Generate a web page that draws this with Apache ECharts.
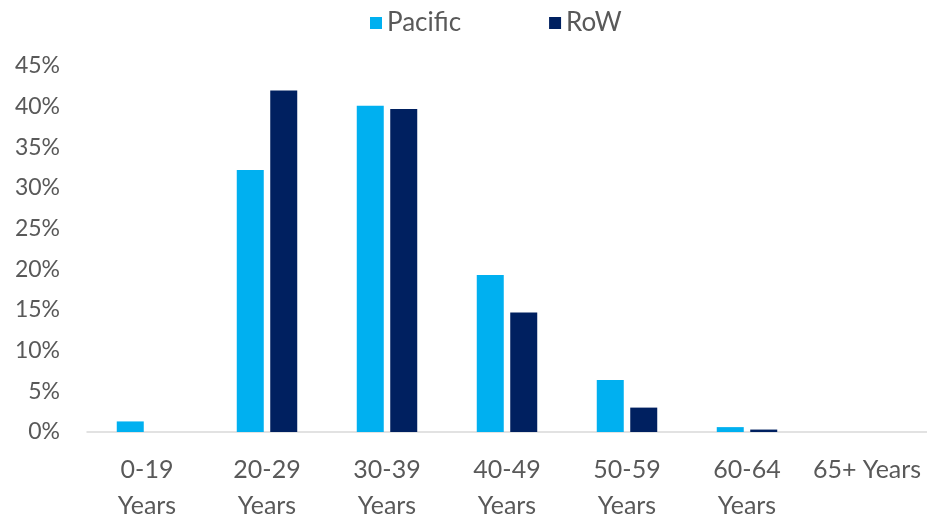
<!DOCTYPE html>
<html>
<head>
<meta charset="utf-8">
<script src="https://cdn.jsdelivr.net/npm/echarts@6/dist/echarts.min.js"></script>
<style>
html,body{margin:0;padding:0;background:#fff;}
#chart{width:927px;height:524px;}
</style>
</head>
<body>
<div id="chart"></div>
<script>
// Age bands and share of each group (%)
const categories = ['0-19\nYears', '20-29\nYears', '30-39\nYears', '40-49\nYears', '50-59\nYears', '60-64\nYears', '65+ Years'];
const pacific = [1.3, 32.2, 40.1, 19.3, 6.4, 0.6, 0];
const row = [0, 42.0, 39.7, 14.7, 3.0, 0.3, 0];
const yTicks = [0, 5, 10, 15, 20, 25, 30, 35, 40, 45];

const font = 'Lato, "Open Sans", sans-serif';
const textColor = '#595959';

const chart = echarts.init(document.getElementById('chart'));
chart.setOption({
  animation: false,
  textStyle: { fontFamily: font },
  legend: {
    top: 5,
    left: 365,
    itemWidth: 12,
    itemHeight: 12,
    itemGap: 88,
    icon: 'rect',
    textStyle: { fontSize: 26, color: textColor, fontFamily: font }
  },
  grid: { left: 87, right: 0, top: 66, bottom: 86, containLabel: false },
  xAxis: {
    type: 'category',
    data: categories,
    axisLine: { lineStyle: { color: '#D9D9D9', width: 1.5 } },
    axisTick: { show: false },
    axisLabel: { color: textColor, fontSize: 25, lineHeight: 36, margin: 20, fontFamily: font, interval: 0 }
  },
  yAxis: {
    type: 'value',
    min: yTicks[0],
    max: yTicks[yTicks.length - 1],
    interval: 5,
    splitLine: { show: false },
    axisLine: { show: false },
    axisTick: { show: false },
    axisLabel: { color: textColor, fontSize: 23, margin: 27, fontFamily: font, formatter: v => v + '%' }
  },
  series: [
    {
      name: 'Pacific', type: 'bar', data: pacific,
      barWidth: 27, barGap: '24%',
      itemStyle: { color: '#00B0F0' }
    },
    {
      name: 'RoW', type: 'bar', data: row,
      barWidth: 27,
      itemStyle: { color: '#002060' }
    }
  ]
});
</script>
</body>
</html>
